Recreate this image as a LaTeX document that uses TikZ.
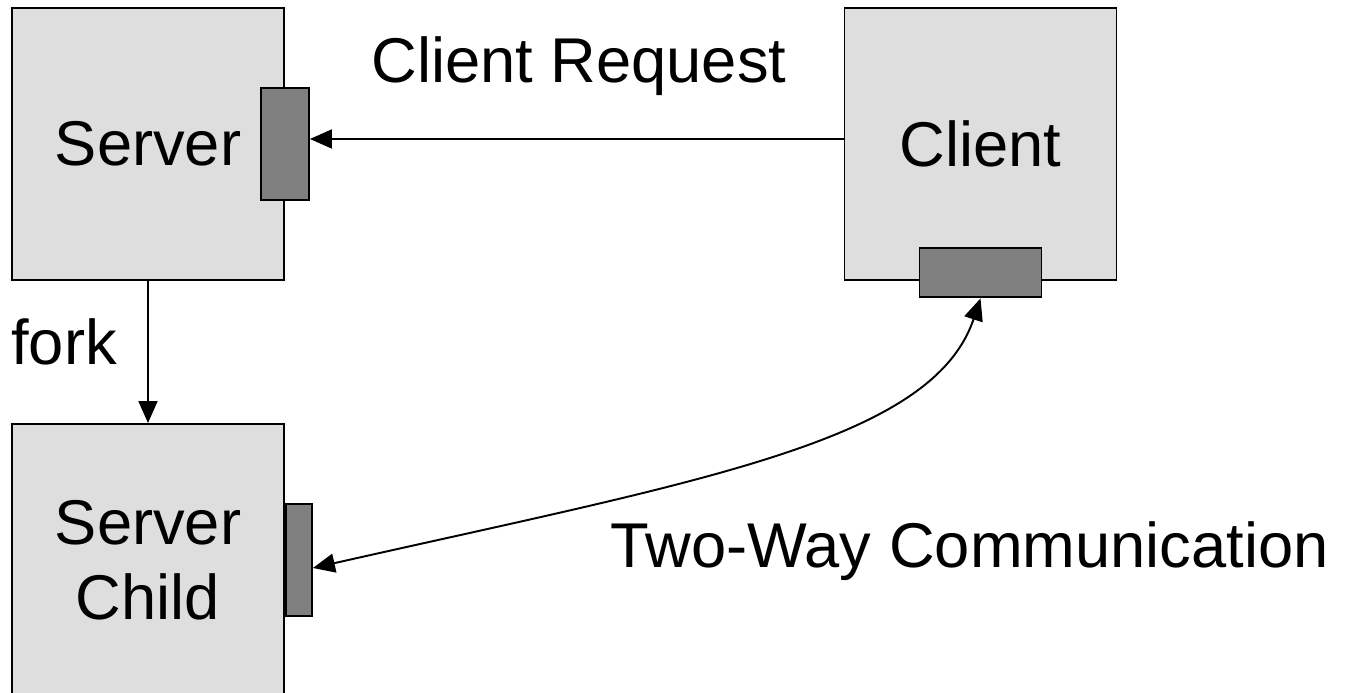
\documentclass[tikz,border=0pt]{standalone}
\usepackage{fontspec}
\setmainfont{Liberation Sans}
\usetikzlibrary{arrows.meta}
\tikzset{
    kasten/.style={draw, line width=1.1pt, fill=black!13, minimum size=5.44cm, inner sep=0pt, align=center},
    port/.style={draw, line width=1.1pt, fill=black!50, inner sep=0pt},
    pfeil/.style={line width=1.1pt, -{Triangle[length=0.44cm, width=0.38cm]}}
}
\begin{document}
\begin{tikzpicture}[font=\fontsize{36}{42.5}\selectfont]
    \useasboundingbox (0,0) rectangle (26.98,13.86); % Rand
    \node[kasten] (server) at (2.96,10.98) {Server};
    \node[kasten] (client) at (19.61,10.98) {Client};
    \node[kasten] (child) at (2.96,2.66) {Server\\Child};
    \node[port, minimum width=0.96cm, minimum height=2.24cm] (sport) at (server.east) {};
    \node[port, minimum width=2.44cm, minimum height=0.98cm] (cport) at ([yshift=0.16cm]client.south) {};
    \node[port, minimum width=0.52cm, minimum height=2.24cm, anchor=west] (kport) at (child.east) {};

    \draw[pfeil] ([yshift=0.1cm]client.west) -- ([yshift=0.1cm]sport.east); % Anfrage
    \draw[pfeil] (server.south) -- (child.north); % fork
    \draw[pfeil, {Triangle[length=0.44cm, width=0.38cm]}-{Triangle[length=0.44cm, width=0.38cm]}]
        (cport.south) .. controls +(-0.96,-2.86) and +(7.8,1.76) .. ([yshift=-0.16cm]kport.east); % Verbindung

    \node[anchor=base] (anfrage) at (11.58,12.2) {Client Request};
    \node[anchor=base west, inner sep=0pt] (fork) at (0.22,6.56) {fork};
    \node[anchor=base west, inner sep=0pt] (komm) at (12.2,2.5) {Two-Way Communication};
\end{tikzpicture}
\end{document}
